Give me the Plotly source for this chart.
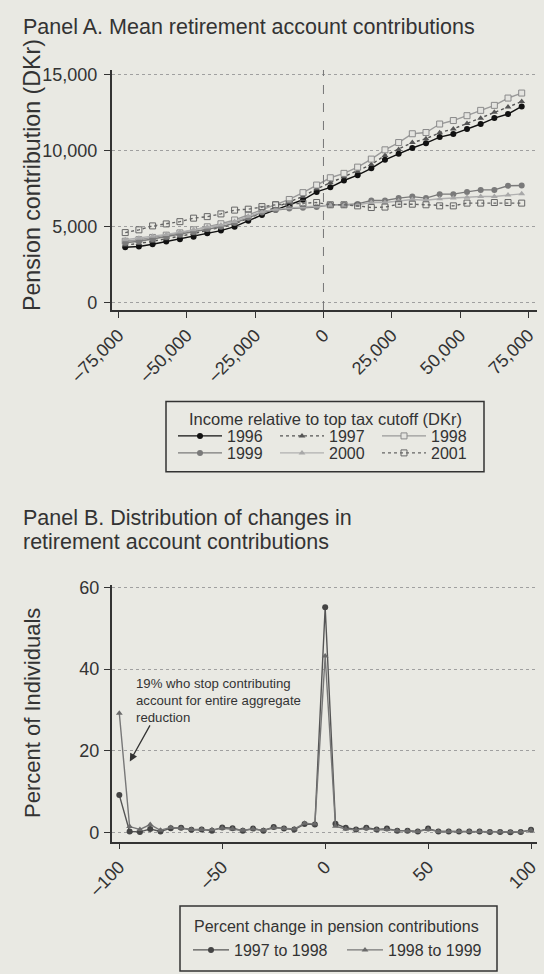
import plotly.graph_objects as go

# ---------------- Data ----------------
income_bins = [-72500, -67500, -62500, -57500, -52500, -47500, -42500, -37500, -32500, -27500,
               -22500, -17500, -12500, -7500, -2500, 2500, 7500, 12500, 17500, 22500,
               27500, 32500, 37500, 42500, 47500, 52500, 57500, 62500, 67500, 72500]

contrib_1996 = [3650, 3700, 3850, 4030, 4180, 4350, 4580, 4750, 5010, 5400,
                5780, 6120, 6450, 6780, 7300, 7600, 8050, 8400, 8850, 9410,
                9810, 10190, 10510, 10910, 11110, 11440, 11770, 12160, 12430, 12930]
contrib_1997 = [3800, 3900, 4050, 4220, 4380, 4550, 4780, 4950, 5200, 5550,
                5950, 6250, 6600, 7000, 7500, 7900, 8300, 8650, 9100, 9700,
                10100, 10550, 10800, 11200, 11450, 11800, 12150, 12550, 12900, 13250]
contrib_1998 = [4050, 4150, 4300, 4450, 4600, 4800, 5000, 5200, 5450, 5800,
                6150, 6450, 6800, 7250, 7750, 8230, 8520, 8930, 9460, 10070,
                10550, 11130, 11210, 11770, 12000, 12320, 12670, 13000, 13480, 13810]
contrib_1999 = [3950, 4050, 4200, 4350, 4500, 4650, 4850, 5000, 5250, 5600,
                5950, 6100, 6200, 6250, 6300, 6450, 6450, 6510, 6730, 6730,
                6890, 6990, 6890, 7150, 7150, 7300, 7430, 7430, 7700, 7720]
contrib_2000 = [4150, 4250, 4380, 4500, 4650, 4800, 4980, 5120, 5350, 5700,
                6000, 6150, 6250, 6300, 6350, 6420, 6420, 6450, 6600, 6600,
                6700, 6800, 6750, 6850, 6900, 6950, 7000, 7000, 7100, 7170]
contrib_2001 = [4620, 4800, 5060, 5190, 5340, 5570, 5670, 5850, 6100, 6160,
                6330, 6450, 6500, 6550, 6600, 6450, 6450, 6380, 6270, 6300,
                6490, 6490, 6450, 6380, 6380, 6560, 6560, 6600, 6600, 6560]

pct_bins = [-100, -95, -90, -85, -80, -75, -70, -65, -60, -55, -50, -45, -40, -35, -30, -25,
            -20, -15, -10, -5, 0, 5, 10, 15, 20, 25, 30, 35, 40, 45, 50, 55, 60, 65, 70, 75,
            80, 85, 90, 95, 100]
chg_97_98 = [9.2, 0.3, 0.2, 0.9, 0.3, 1.1, 1.2, 0.7, 0.8, 0.5, 1.3, 1.1, 0.5, 1.0, 0.5, 1.4,
             1.0, 0.8, 2.1, 2.0, 55.1, 2.2, 1.2, 0.8, 1.2, 0.8, 1.0, 0.5, 0.5, 0.3, 1.0, 0.3,
             0.3, 0.3, 0.3, 0.3, 0.2, 0.2, 0.1, 0.2, 0.7]
chg_98_99 = [29.2, 1.5, 0.8, 2.0, 0.6, 1.3, 1.1, 0.8, 0.8, 0.7, 1.1, 0.9, 0.6, 0.9, 0.6, 1.2,
             1.0, 0.9, 2.3, 2.1, 43.2, 1.6, 0.9, 0.7, 1.0, 0.7, 0.8, 0.5, 0.4, 0.3, 0.8, 0.3,
             0.3, 0.3, 0.3, 0.3, 0.2, 0.2, 0.2, 0.2, 0.6]

income_ticks = [-75000, -50000, -25000, 0, 25000, 50000, 75000]
income_ticktext = ["\u201375,000", "\u201350,000", "\u201325,000", "0", "25,000", "50,000", "75,000"]
contrib_ticks = [0, 5000, 10000, 15000]
contrib_ticktext = ["0", "5,000", "10,000", "15,000"]
pct_ticks = [-100, -50, 0, 50, 100]
pct_ticktext = ["\u2013100", "\u201350", "0", "50", "100"]
share_ticks = [0, 20, 40, 60]

# ---------------- Figure ----------------
W, H = 544, 974
BG = "#e9e9e3"
INK = "#333333"
FONT = "Liberation Sans, Arial, Helvetica, sans-serif"

def py(px):
    return 1 - px / H

fig = go.Figure()

series_a = [
    ("1996", contrib_1996, dict(color="#111111", width=1.4, dash="solid"),
     dict(symbol="circle", size=6, color="#111111"), "legend"),
    ("1997", contrib_1997, dict(color="#555555", width=1.4, dash="dot"),
     dict(symbol="triangle-up", size=6, color="#555555"), "legend"),
    ("1998", contrib_1998, dict(color="#9a9a9a", width=1.4, dash="solid"),
     dict(symbol="square", size=6, color="#e4e4e0", line=dict(color="#8a8a8a", width=1)), "legend"),
    ("1999", contrib_1999, dict(color="#7a7a7a", width=1.4, dash="solid"),
     dict(symbol="circle", size=6, color="#7a7a7a"), "legend3"),
    ("2000", contrib_2000, dict(color="#b0b0b0", width=1.4, dash="solid"),
     dict(symbol="triangle-up", size=6, color="#a8a8a8"), "legend3"),
    ("2001", contrib_2001, dict(color="#666666", width=1.4, dash="dot"),
     dict(symbol="square-open", size=6, color="#666666", line=dict(width=1)), "legend3"),
]
for name, ys, ln, mk, lg in series_a:
    fig.add_trace(go.Scatter(x=income_bins, y=ys, name=name, mode="lines+markers",
                             line=ln, marker=mk, xaxis="x", yaxis="y", legend=lg))

fig.add_trace(go.Scatter(x=pct_bins, y=chg_97_98, name="1997 to 1998", mode="lines+markers",
                         line=dict(color="#555555", width=1.4),
                         marker=dict(symbol="circle", size=6, color="#444444"),
                         xaxis="x2", yaxis="y2", legend="legend2"))
fig.add_trace(go.Scatter(x=pct_bins, y=chg_98_99, name="1998 to 1999", mode="lines+markers",
                         line=dict(color="#777777", width=1.4),
                         marker=dict(symbol="triangle-up", size=6, color="#6a6a6a"),
                         xaxis="x2", yaxis="y2", legend="legend2"))

xdom = [111.7 / W, 537 / W]
axis_common = dict(showline=True, linecolor=INK, linewidth=1.5, ticks="outside", ticklen=6,
                   tickcolor=INK, tickwidth=1.2, tickfont=dict(size=18, color=INK, family=FONT),
                   zeroline=False, automargin=False)

leg_common = dict(orientation="h", xanchor="left", yanchor="top", borderwidth=0,
                  bgcolor="rgba(0,0,0,0)", font=dict(size=16, color=INK, family=FONT),
                  traceorder="normal")

fig.update_layout(
    width=W, height=H,
    margin=dict(l=0, r=0, t=0, b=0, autoexpand=False),
    paper_bgcolor=BG, plot_bgcolor=BG,
    font=dict(family=FONT, color=INK),
    xaxis=dict(domain=xdom, range=[-77450, 78100], tickvals=income_ticks, ticktext=income_ticktext,
               tickangle=-45, showgrid=False, anchor="y", **axis_common),
    yaxis=dict(domain=[py(310), py(70)], range=[-480, 15329], tickvals=contrib_ticks,
               ticktext=contrib_ticktext, showgrid=True, gridcolor="#a0a0a0", griddash="dot",
               gridwidth=1, anchor="x", ticklabelstandoff=3, **axis_common),
    xaxis2=dict(domain=xdom, range=[-103.7, 102.9], tickvals=pct_ticks, ticktext=pct_ticktext,
                tickangle=-45, showgrid=False, anchor="y2", **axis_common),
    yaxis2=dict(domain=[py(841.7), py(585)], range=[-2.2, 60.56], tickvals=share_ticks,
                showgrid=True, gridcolor="#a0a0a0", griddash="dot", gridwidth=1, anchor="x2",
                ticklabelstandoff=1, **axis_common),
    legend=dict(x=173 / W, y=py(419), itemwidth=44, entrywidth=43, **leg_common),
    legend3=dict(x=173 / W, y=py(436), itemwidth=44, entrywidth=43, **leg_common),
    legend2=dict(x=188 / W, y=py(933), itemwidth=36, entrywidth=103, **leg_common),
    showlegend=True,
)

# vertical dashed line at the top-tax cutoff
fig.add_shape(type="line", x0=0, x1=0, y0=0, y1=1, xref="x", yref="y domain",
              line=dict(color="#777777", width=1, dash="dash"))
# legend frames
fig.add_shape(type="rect", xref="paper", yref="paper", x0=166 / W, x1=484 / W,
              y0=py(471.7), y1=py(401.5), line=dict(color=INK, width=1.5))
fig.add_shape(type="rect", xref="paper", yref="paper", x0=180 / W, x1=497 / W,
              y0=py(971), y1=py(906), line=dict(color=INK, width=1.5))

ann = []
ann.append(dict(text="Panel A. Mean retirement account contributions", x=21 / W, y=py(27),
                xref="paper", yref="paper", xanchor="left", yanchor="middle", showarrow=False,
                font=dict(size=21.5, color=INK, family=FONT)))
ann.append(dict(text="Panel B. Distribution of changes in", x=21 / W, y=py(518),
                xref="paper", yref="paper", xanchor="left", yanchor="middle", showarrow=False,
                font=dict(size=21.5, color=INK, family=FONT)))
ann.append(dict(text="retirement account contributions", x=21 / W, y=py(542),
                xref="paper", yref="paper", xanchor="left", yanchor="middle", showarrow=False,
                font=dict(size=21.5, color=INK, family=FONT)))
ann.append(dict(text="Pension contribution (DKr)", x=32 / W, y=py(175), textangle=-90,
                xref="paper", yref="paper", xanchor="center", yanchor="middle", showarrow=False,
                font=dict(size=23.2, color=INK, family=FONT)))
ann.append(dict(text="Percent of Individuals", x=32 / W, y=py(713), textangle=-90,
                xref="paper", yref="paper", xanchor="center", yanchor="middle", showarrow=False,
                font=dict(size=22, color=INK, family=FONT)))
ann.append(dict(text="Income relative to top tax cutoff (DKr)", x=325 / W, y=py(419),
                xref="paper", yref="paper", xanchor="center", yanchor="middle", showarrow=False,
                font=dict(size=16.5, color=INK, family=FONT)))
ann.append(dict(text="Percent change in pension contributions", x=336 / W, y=py(926),
                xref="paper", yref="paper", xanchor="center", yanchor="middle", showarrow=False,
                font=dict(size=16, color=INK, family=FONT)))
ann.append(dict(text="19% who stop contributing<br>account for entire aggregate<br>reduction",
                x=-92.9, y=32.4, xref="x2", yref="y2", xanchor="left", yanchor="middle",
                align="left", showarrow=False, font=dict(size=13.2, color=INK, family=FONT)))
ann.append(dict(text="", x=-94.9, y=17.4, ax=-84.7, ay=26.6, axref="x2", ayref="y2",
                xref="x2", yref="y2", showarrow=True, arrowhead=2, arrowsize=1.2,
                arrowwidth=1.3, arrowcolor=INK))
fig.update_layout(annotations=ann)

fig.write_html("out.html", config={"displayModeBar": False},
               post_script="document.body.style.margin='0px';document.body.style.padding='0px';"
                           "document.body.style.overflow='hidden';")
